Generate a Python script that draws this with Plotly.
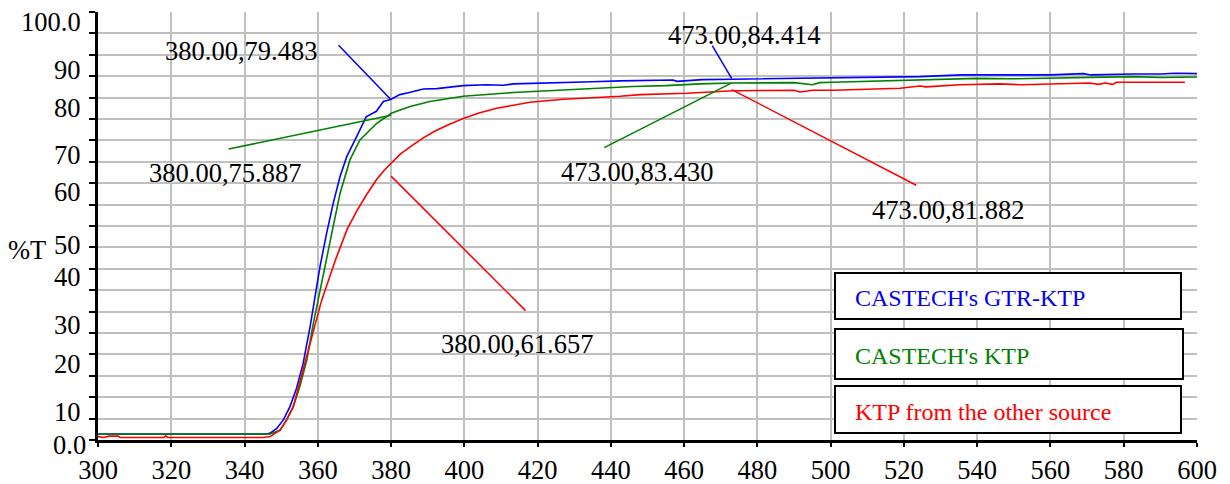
import plotly.graph_objects as go

FONT = "Liberation Serif, Times New Roman, serif"

# ---------------- data ----------------
wl_gtr = [300, 346, 347, 348.8, 350.6, 352.4, 354.2, 356.0, 357.9, 359.2, 360.6, 362.4,
          364.2, 366.1, 367.9, 370.6, 373.2, 376.0, 377.9, 380.0, 382.4, 385.0, 388.8,
          392.5, 399.7, 406, 410.6, 413.4, 420, 427.0, 435, 442.5, 450, 457, 458, 465,
          473.3, 485, 500.6, 512, 524.4, 535.8, 539.9, 546, 551, 560, 569, 571, 582.6,
          590, 594, 600]
t_gtr = [1.4, 1.4, 1.6, 2.7, 4.7, 7.8, 12.1, 17.9, 26.5, 33.5, 40.5, 48.3,
         55.3, 61.6, 66.2, 70.9, 75.5, 76.8, 79.1, 79.6, 80.7, 81.2, 82.0,
         82.1, 82.8, 83.0, 82.9, 83.2, 83.4, 83.5, 83.7, 83.9, 84.0, 84.1, 83.8, 84.2,
         84.3, 84.4, 84.6, 84.8, 84.9, 85.3, 85.3, 85.2, 85.3, 85.3, 85.6, 85.3, 85.5,
         85.5, 85.7, 85.6]

wl_ktp = [300, 347, 347.9, 349.7, 351.5, 353.3, 355.1, 357.0, 358.8, 360.6, 362.4, 364.2,
          366.1, 368.8, 371.5, 373.3, 376.1, 380.2, 385.2, 390.6, 399.7, 413.4, 427.0,
          442.5, 446.1, 455, 464.3, 473.4, 490, 495, 497, 500.7, 510, 518.9, 524.4, 533.5,
          539.9, 550, 559.9, 570, 582.6, 590, 600]
t_ktp = [1.4, 1.4, 1.7, 2.3, 4.7, 7.8, 12.5, 18.7, 27.3, 35.1, 42.9, 49.9,
         57.7, 65.5, 70.1, 71.7, 74.0, 76.4, 77.9, 79.1, 80.3, 81.2, 81.8,
         82.4, 82.6, 82.8, 83.2, 83.4, 83.5, 83.0, 83.5, 83.6, 83.8, 84.1, 84.1, 84.3,
         84.5, 84.4, 84.6, 84.7, 84.9, 84.7, 84.8]

wl_other = [300, 301.5, 303, 305.5, 306, 318, 318.5, 319, 345, 347, 349.7, 351.5, 353.3,
            355.1, 357.0, 359.0, 361.0, 363.0, 365.0, 368.0, 370.5, 373.3, 376.1, 378.2,
            380.2, 382.5, 386.1, 388.8, 392, 395.2, 399.7, 404, 408.8, 417.9, 427.0, 437.0,
            442.5, 448.0, 460.7, 473.4, 490, 491.6, 495, 500.7, 511.6, 518.9, 524.4, 526,
            535.3, 546.2, 552, 570.8, 573, 575, 577, 578, 596.7]
t_other = [0.8, 0.6, 0.9, 0.9, 0.6, 0.6, 1.0, 0.6, 0.6, 0.8, 2.3, 4.7, 7.8,
           13.5, 19.5, 26.5, 32.5, 37.5, 42.5, 49.2, 53.3, 57.3, 60.9, 63.1,
           64.9, 66.8, 69.0, 70.6, 72.2, 73.5, 75.1, 76.4, 77.5, 78.9, 79.6, 80.0,
           80.3, 80.7, 81.0, 81.6, 81.7, 81.3, 81.7, 81.7, 82.0, 82.2, 82.7, 82.5,
           83.0, 83.2, 83.0, 83.4, 83.1, 83.4, 83.1, 83.6, 83.6]

series_names = ["CASTECH's GTR-KTP", "CASTECH's KTP", "KTP from the other source"]
series_colors = ["#0000ff", "#008000", "#ff0000"]

# marked points: (wavelength, %T, series index)
mark_wl = [380.0, 380.0, 380.0, 473.0, 473.0, 473.0]
mark_t = [79.483, 75.887, 61.657, 84.414, 83.430, 81.882]
mark_series = [0, 1, 2, 0, 1, 2]

x_range = [300, 600]
y_range = [0, 100]
x_ticks = list(range(300, 601, 20))
y_grid = list(range(0, 101, 5))
y_label_text = ["100.0", "90", "80", "70", "60", "50", "40", "30", "20", "10", "0.0"]
y_label_pos = [97.6, 86.5, 77.5, 66.6, 58.0, 45.6, 38.1, 26.9, 17.8, 6.5, -1.2]

# ---------------- layout geometry (pixels) ----------------
W, H = 1230, 484
ML, MR, MT, MB = 98, 33, 12, 44
PW, PH = W - ML - MR, H - MT - MB
FS = 26.5


def xp(px):
    return (px - ML) / PW


def yp(py):
    return (H - MB - py) / PH


fig = go.Figure()
for xs, ys, c in zip([wl_gtr, wl_ktp, wl_other], [t_gtr, t_ktp, t_other], series_colors):
    fig.add_trace(go.Scatter(x=xs, y=ys, mode="lines", line=dict(color=c, width=1.6),
                             hoverinfo="skip", showlegend=False))

annotations = []
# leader lines (pixel offsets of tail) and label offsets (pixel offsets of text centre)
leader_off = [(-53, -55), (-163, 34), (135, 135), (-20, -34), (-128, 65), (185, 96)]
label_off = [(-150, 49), (-166, -58), (126, -168), (12, 44), (-95, -89), (216, -120)]
for w, t, s, (ax, ay), (dx, dy) in zip(mark_wl, mark_t, mark_series, leader_off, label_off):
    annotations.append(dict(x=w, y=t, xref="x", yref="y", text=" ", showarrow=True,
                            arrowhead=0, arrowwidth=1.5, arrowcolor=series_colors[s],
                            ax=ax, ay=ay, standoff=0, startstandoff=0,
                            font=dict(size=1), borderpad=0))
    annotations.append(dict(x=w, y=t, xref="x", yref="y", text=f"{w:.2f},{t:.3f}",
                            showarrow=False, xshift=dx, yshift=dy, xanchor="center",
                            yanchor="middle", borderpad=0,
                            font=dict(family=FONT, size=FS, color="black")))

# y tick labels (placed where the original chart shows them)
for txt, pos in zip(y_label_text, y_label_pos):
    annotations.append(dict(x=0, y=(pos - y_range[0]) / (y_range[1] - y_range[0]),
                            xref="paper", yref="paper", text=txt, showarrow=False,
                            xanchor="right", yanchor="middle", borderpad=0,
                            xshift=(-11 if txt == "0.0" else -16),
                            font=dict(family=FONT, size=FS, color="black")))
annotations.append(dict(x=xp(27), y=yp(250), xref="paper", yref="paper", text="%T",
                        showarrow=False, xanchor="center", yanchor="middle", borderpad=0,
                        font=dict(family=FONT, size=FS, color="black")))

# legend boxes
shapes = []
box_px = [(835, 273, 1181, 319), (835, 329, 1183, 379), (835, 386, 1181, 433)]
for (x0, y0, x1, y1), name, c in zip(box_px, series_names, series_colors):
    shapes.append(dict(type="rect", xref="paper", yref="paper", x0=xp(x0), x1=xp(x1),
                       y0=yp(y1), y1=yp(y0), line=dict(color="black", width=2),
                       fillcolor="white", layer="above"))
    annotations.append(dict(x=xp(854), y=yp((y0 + y1) / 2 + 2), xref="paper", yref="paper",
                            text=name, showarrow=False, xanchor="left", yanchor="middle",
                            borderpad=0, font=dict(family=FONT, size=24, color=c)))

fig.update_layout(
    template="none",
    width=W, height=H, autosize=False,
    margin=dict(l=ML, r=MR, t=MT, b=MB, pad=0, autoexpand=False),
    paper_bgcolor="white", plot_bgcolor="white",
    showlegend=False,
    font=dict(family=FONT, size=FS, color="black"),
    xaxis=dict(range=x_range, tickmode="array", tickvals=x_ticks,
               ticktext=[str(v) for v in x_ticks], automargin=False,
               showgrid=True, gridcolor="#c0c0c0", gridwidth=1.5,
               showline=True, linecolor="black", linewidth=2.5,
               ticks="outside", ticklen=4, tickwidth=2, tickcolor="black",
               tickfont=dict(family=FONT, size=FS, color="black"),
               ticklabelstandoff=0, zeroline=False),
    yaxis=dict(range=y_range, tickmode="array", tickvals=y_grid, showticklabels=False,
               automargin=False,
               showgrid=True, gridcolor="#c0c0c0", gridwidth=1.5,
               showline=True, linecolor="black", linewidth=2.5,
               ticks="outside", ticklen=6, tickwidth=2, tickcolor="black",
               zeroline=False),
    annotations=annotations,
    shapes=shapes,
)

fig.write_html("out.html", config={"displayModeBar": False},
               post_script="document.body.style.margin='0';document.body.style.padding='0';")
